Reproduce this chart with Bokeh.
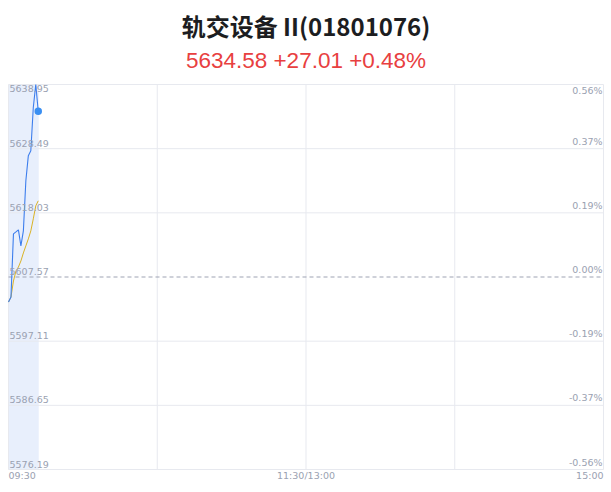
from bokeh.plotting import figure
from bokeh.models import Range1d
from bokeh.embed import file_html
from bokeh.resources import INLINE
from bokeh.core.properties import value

# ---------------- data ----------------
title_text = "轨交设备 II(01801076)"
subtitle_text = "5634.58 +27.01 +0.48%"
prev_close = 5607.57

minutes = [0, 1, 2, 3, 4, 5, 6, 7, 8, 9, 10, 11, 12]
price = [5603.48, 5604.30, 5614.60, 5614.92, 5615.25, 5612.64, 5615.09,
         5623.26, 5627.35, 5628.16, 5635.19, 5638.95, 5634.58]
avg_price = [5603.48, 5604.30, 5606.92, 5608.55, 5609.20, 5610.18, 5611.49,
             5612.64, 5613.78, 5615.09, 5617.05, 5619.17, 5619.99]

y_ticks = [5576.19, 5586.65, 5597.11, 5607.57, 5618.03, 5628.49, 5638.95]
y_tick_labels = ["5576.19", "5586.65", "5597.11", "5607.57", "5618.03", "5628.49", "5638.95"]
pct_labels = ["-0.56%", "-0.37%", "-0.19%", "0.00%", "0.19%", "0.37%", "0.56%"]
x_grid_ticks = [0, 60, 120, 180, 240]
x_ticks = [0, 120, 240]
x_tick_labels = ["09:30", "11:30/13:00", "15:00"]

# ---------------- layout (pixels) ----------------
W, H = 611, 492
PL, PR = 8, 603      # chart area left / right
PT, PB = 84, 469     # chart area top / bottom
xmin, xmax = 0, 240
ymin, ymax = y_ticks[0], y_ticks[-1]
upx = (xmax - xmin) / (PR - PL)
upy = (ymax - ymin) / (PB - PT)

LABEL_COLOR = "#9aa1b1"
GRID_COLOR = "#e7e9ef"

p = figure(width=W, height=H, output_backend="svg", toolbar_location=None,
           x_range=Range1d(xmin - PL * upx, xmax + (W - PR) * upx),
           y_range=Range1d(ymin - (H - PB) * upy, ymax + PT * upy),
           min_border=0)
p.xaxis.visible = False
p.yaxis.visible = False
p.xgrid.visible = False
p.ygrid.visible = False
p.outline_line_color = None

# highlight band over the traded period
p.quad(left=minutes[0], right=minutes[-1] + 0.2, bottom=ymin, top=ymax,
       fill_color="#e8effc", line_color=None)

# grid
grid_y = [t for t in y_ticks if t != prev_close]
p.segment(x0=[xmin] * len(grid_y), x1=[xmax] * len(grid_y), y0=grid_y, y1=grid_y,
          line_color=GRID_COLOR, line_width=1)
p.segment(x0=x_grid_ticks, x1=x_grid_ticks, y0=[ymin] * len(x_grid_ticks),
          y1=[ymax] * len(x_grid_ticks), line_color=GRID_COLOR, line_width=1)
p.segment(x0=[xmin], x1=[xmax], y0=[prev_close], y1=[prev_close],
          line_color="#9ea3b3", line_dash="4 3", line_width=1)

p.line(minutes, avg_price, line_color="#d9b224", line_width=1)
p.line(minutes, price, line_color="#3d7eed", line_width=1.1)
p.scatter([minutes[-1]], [price[-1]], size=7.5, fill_color="#3a8ff2", line_color=None)

# y labels inside the chart area
fnt = value("DejaVu Sans")
fs = "9.5px"
p.text(x=[xmin] * 6, y=y_ticks[:-1], text=y_tick_labels[:-1], text_font=fnt,
       text_font_size=fs, text_color=LABEL_COLOR, text_align="left",
       text_baseline="bottom", x_offset=1, y_offset=-2)
p.text(x=[xmin], y=[ymax], text=[y_tick_labels[-1]], text_font=fnt,
       text_font_size=fs, text_color=LABEL_COLOR, text_align="left",
       text_baseline="top", x_offset=1, y_offset=0)
p.text(x=[xmax] * 6, y=y_ticks[:-1], text=pct_labels[:-1], text_font=fnt,
       text_font_size=fs, text_color=LABEL_COLOR, text_align="right",
       text_baseline="bottom", x_offset=-1, y_offset=-2)
p.text(x=[xmax], y=[ymax], text=[pct_labels[-1]], text_font=fnt,
       text_font_size=fs, text_color=LABEL_COLOR, text_align="right",
       text_baseline="top", x_offset=-1, y_offset=0)

# x labels below the chart area
p.text(x=x_ticks, y=[ymin] * 3, text=x_tick_labels, text_font=fnt,
       text_font_size=fs, text_color=LABEL_COLOR,
       text_align=["left", "center", "right"], text_baseline="middle", y_offset=5.5)

# titles
p.text(x=[(xmin + xmax) / 2], y=[ymax], text=[title_text],
       text_font=value("Noto Sans CJK SC"), text_font_size="24px",
       text_font_style="bold", text_color="#1c1d21", text_align="center",
       text_baseline="middle", y_offset=-59)
p.text(x=[(xmin + xmax) / 2], y=[ymax], text=[subtitle_text],
       text_font=value("Liberation Sans"), text_font_size="22.5px",
       text_color="#e8403f", text_align="center", text_baseline="middle",
       y_offset=-24)

open("out.html", "w").write(file_html(p, INLINE))
